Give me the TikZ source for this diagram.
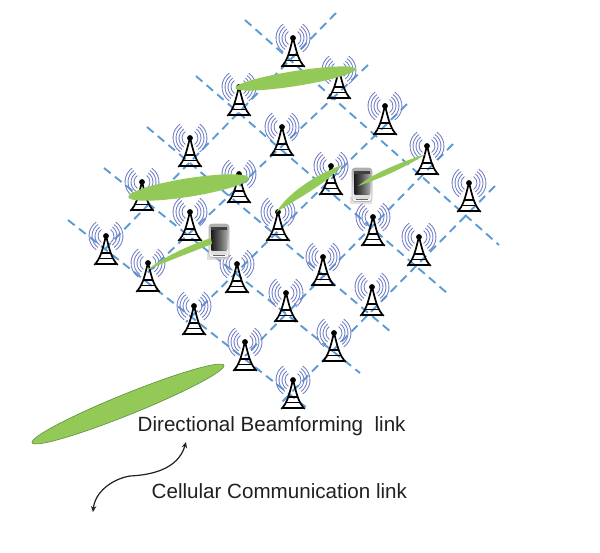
\documentclass[tikz,border=0pt]{standalone}
\usepackage{fontspec}
\setmainfont{Liberation Sans}
\usetikzlibrary{shapes.geometric,arrows.meta}
\definecolor{gridblue}{HTML}{5B9BD5}
\definecolor{ringblue}{HTML}{6F7CC6}
\definecolor{beamgreen}{HTML}{92C957}
\definecolor{beamedge}{HTML}{5E8F3A}
\definecolor{txt}{HTML}{231F20}
\tikzset{
  x=1pt,y=-1pt,
  gridline/.style={draw=gridblue,line width=1.9pt,dash pattern=on 8.5pt off 5.5pt},
  beamleaf/.style={fill=beamgreen,draw=none},
  beamoval/.style={ellipse,fill=beamgreen,draw=none,inner sep=0pt},
  caption/.style={font=\fontsize{20.6}{24}\selectfont,text=txt,inner sep=0pt,anchor=base west},
  tower/.pic={
    \foreach \r in {8,11,14,17}{
      \draw[ringblue,line width=.85pt] (-55:\r) arc[start angle=-55,end angle=55,radius=\r];
      \draw[ringblue,line width=.85pt] (125:\r) arc[start angle=125,end angle=235,radius=\r];
    }
    \fill[black] (0,0) circle[radius=2.9];
    \draw[black,line width=1.7pt,line join=round] (-11.7,29) .. controls (-6,23) and (-4,16) .. (-.6,2) -- (.6,2) .. controls (4,16) and (6,23) .. (11.7,29);
    \draw[black,line width=1.4pt] (-4.6,17) -- (4.6,17) (-6.8,22.6) -- (6.8,22.6) (-10,27.8) -- (10,27.8);
  },
  phone/.pic={
    \fill[gray!40,opacity=.6] (-12,12) -- (10,12) -- (10,18.5) -- (-12,18.5) -- cycle;
    \draw[gray!60,line width=.6pt,rounded corners=3pt,top color=gray!65,bottom color=white] (-10,-17) rectangle (10,16.5);
    \fill[rounded corners=1pt,left color=black!90,right color=gray!70,middle color=black!65] (-8,-14) rectangle (8,9.5);
    \fill[black!75] (-8,-14.5) rectangle (8,-11.5);
    \fill[gray!25] (-8,10) rectangle (8,13.5);
    \fill[black!60] (-6,13.5) rectangle (6,15);
  }
}
\begin{document}
\begin{tikzpicture}
\useasboundingbox (0,0) rectangle (600,552);
% free ends of the grid lines
\coordinate (a1) at (245,20);  \coordinate (a2) at (499,245);
\coordinate (b1) at (196,76);  \coordinate (b2) at (447,293);
\coordinate (c1) at (147,127); \coordinate (c2) at (391,332);
\coordinate (d1) at (104,168); \coordinate (d2) at (360,373);
\coordinate (e1) at (68,220);  \coordinate (e2) at (307,408);
\coordinate (f1) at (336,13);  \coordinate (f2) at (104,250);
\coordinate (g1) at (368,65);  \coordinate (g2) at (145,275);
\coordinate (h1) at (407,104); \coordinate (h2) at (186,322);
\coordinate (i1) at (453,144); \coordinate (i2) at (245,356);
\coordinate (j1) at (495,186); \coordinate (j2) at (281,403);
\foreach \p/\q in {a1/a2,b1/b2,c1/c2,d1/d2,e1/e2,f1/f2,g1/g2,h1/h2,i1/i2,j1/j2}
  \draw[gridline] (\p) -- (\q);
% towers
\foreach \n/\x/\y in {1/293/38,2/239/87,3/339/70,4/385/106,5/282/127,6/190/138,7/427/146,8/331/166,9/239/174,10/142/182,11/469/183,12/190/212,13/278/212,14/373/217,15/106/236,16/419/237,17/323/257,18/148/263,19/237/264,20/372/287,21/286/293,22/194/306,23/334/333,24/245/342,25/293/380}{
  \coordinate (t\n) at (\x,\y);
  \pic at (t\n) {tower};
}
% phones
\coordinate (ph1) at (219,241);
\coordinate (ph2) at (362,185);
\pic at (ph1) {phone};
\pic at (ph2) {phone};
% beams
\node[beamoval,minimum width=122pt,minimum height=15pt,rotate=9] (beamA) at (295.5,78.5) {};
\node[beamoval,minimum width=122pt,minimum height=18.5pt,rotate=9] (beamB) at (188.5,187.5) {};
\coordinate (c0) at (147,270); \coordinate (c3) at (211,238);
\fill[beamleaf] (c0) .. controls (165,256) and (190,245) .. (c3) -- (212,244) .. controls (192,252) and (165,262) .. cycle;
\coordinate (d0) at (276,212.5); \coordinate (d3) at (342,165);
\fill[beamleaf] (d0) .. controls (288,193) and (315,175) .. (d3) .. controls (328,183) and (298,198) .. cycle;
\coordinate (e0) at (358,186); \coordinate (e3) at (426,154);
\fill[beamleaf] (e0) .. controls (375,172) and (402,162) .. (e3) .. controls (408,166) and (382,178) .. cycle;
% legend
\node[beamoval,draw=beamedge,line width=.6pt,minimum width=207pt,minimum height=21pt,rotate=22] (legendbeam) at (128,404) {};
\node[caption] (dirlabel) at (137.5,431) {Directional Beamforming\ \ link};
\node[caption] (celllabel) at (151.5,498) {Cellular Communication link};
\coordinate (ar1) at (186,442); \coordinate (ar2) at (93,512);
\draw[line width=1.2pt,txt,{Stealth[length=6pt,width=5.5pt]}-{Stealth[length=6pt,width=5.5pt]}] (ar1) .. controls (178,470) and (150,475) .. (130,476) .. controls (112,479) and (95,492) .. (ar2);
\end{tikzpicture}
\end{document}
